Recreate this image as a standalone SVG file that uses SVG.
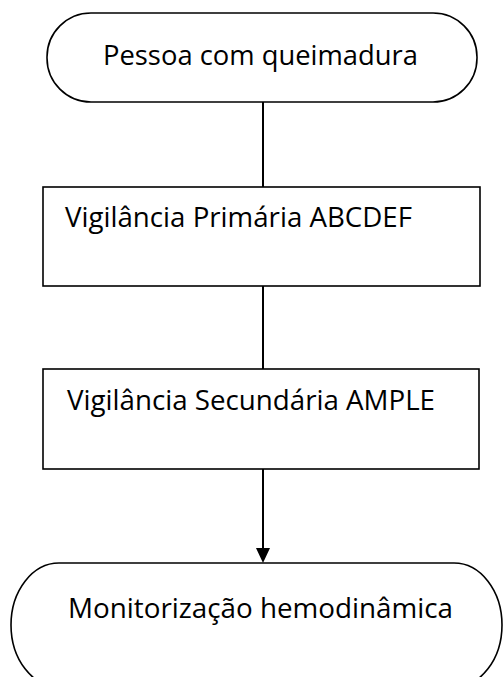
<svg xmlns="http://www.w3.org/2000/svg" width="503" height="677" viewBox="0 0 503 677">
<style>
.shape{fill:#fff;stroke:#000;stroke-width:1.6}
.lbl{font-family:"Open Sans","Noto Sans","Liberation Sans",sans-serif;font-size:27.5px;fill:#000}
.conn{stroke:#000;stroke-width:2;fill:none}
</style>
<g id="connectors">
<line class="conn" x1="263" y1="102" x2="263" y2="187"/>
<line class="conn" x1="263" y1="286" x2="263" y2="369"/>
<line class="conn" x1="263" y1="469" x2="263" y2="549"/>
<path d="M256,548 L270,548 L263,563 Z" fill="#000"/>
</g>
<g id="start">
<rect class="shape" x="47" y="13" width="430" height="89" rx="44" ry="44"/>
<text class="lbl" x="103" y="65" textLength="315" lengthAdjust="spacingAndGlyphs">Pessoa com queimadura</text>
</g>
<g id="primary">
<rect class="shape" x="43" y="187" width="437" height="99"/>
<text class="lbl" x="65" y="227" textLength="347" lengthAdjust="spacingAndGlyphs">Vigilância Primária ABCDEF</text>
</g>
<g id="secondary">
<rect class="shape" x="43" y="369" width="436" height="100"/>
<text class="lbl" x="67" y="410" textLength="368" lengthAdjust="spacingAndGlyphs">Vigilância Secundária AMPLE</text>
</g>
<g id="end">
<rect class="shape" x="11" y="563" width="491" height="124" rx="48" ry="62"/>
<text class="lbl" x="68" y="618" textLength="385" lengthAdjust="spacingAndGlyphs">Monitorização hemodinâmica</text>
</g>
</svg>
